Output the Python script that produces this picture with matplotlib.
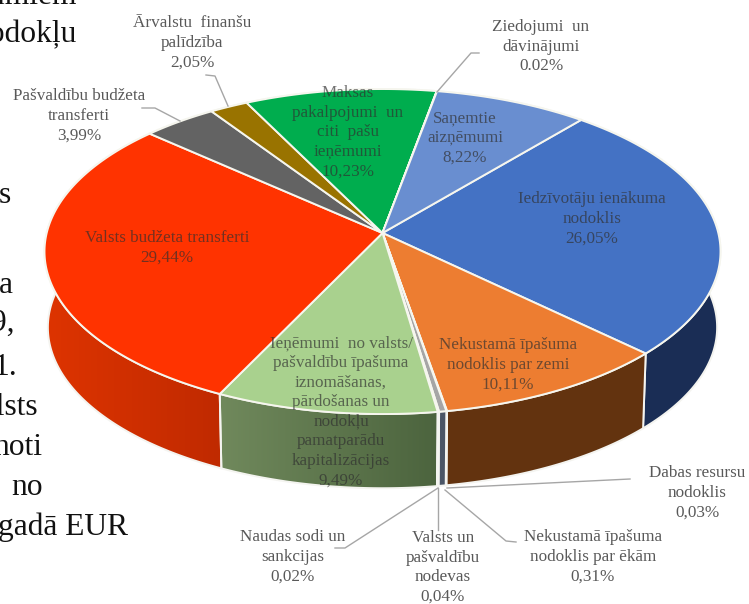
import numpy as np
import matplotlib
matplotlib.use('Agg')
import matplotlib.pyplot as plt
from matplotlib.patches import Polygon

# Dati: ieņēmumu struktūra, %
categories = [
    ['Iedzīvotāju ienākuma', 'nodoklis'],
    ['Nekustamā īpašuma', 'nodoklis par zemi'],
    ['Dabas resursu', 'nodoklis'],
    ['Nekustamā īpašuma', 'nodoklis par ēkām'],
    ['Valsts un', 'pašvaldību', 'nodevas'],
    ['Naudas sodi un', 'sankcijas'],
    ['Ieņēmumi  no valsts/', 'pašvaldību īpašuma', 'iznomāšanas,', 'pārdošanas un', 'nodokļu', 'pamatparādu', 'kapitalizācijas'],
    ['Valsts budžeta transferti'],
    ['Pašvaldību budžeta', 'transferti'],
    ['Ārvalstu  finanšu', 'palīdzība'],
    ['Maksas', 'pakalpojumi  un', 'citi  pašu', 'ieņēmumi'],
    ['Ziedojumi  un', 'dāvinājumi'],
    ['Saņemtie', 'aizņēmumi'],
]
values = [26.05, 10.11, 0.03, 0.31, 0.04, 0.02, 9.49, 29.44, 3.99, 2.05, 10.23, 0.02, 8.22]
pct_labels = ['26,05%', '10,11%', '0,03%', '0,31%', '0,04%', '0,02%', '9,49%',
              '29,44%', '3,99%', '2,05%', '10,23%', '0.02%', '8,22%']
body_lines = ['ieņēmumiem', 'nodokļu', 's', 'a', '9,', '1.', 'valsts', 'noti', 'no', 'gadā EUR']

top_colors = ['#4472C4', '#ED7D31', '#A5A5A5', '#A5A5A5', '#8A8A8A', '#5B9BD5', '#A9D18E',
              '#FF3300', '#636363', '#997300', '#00AD4E', '#7F7F7F', '#698ED0']
side_colors = ['#1A2D55', '#63330F', '#4A5566', '#4A5566', '#4A5566', '#4A5566', None,
               None, '#3A3A3A', '#5C4500', '#006B30', '#4C4C4C', '#3F5580']

# Perspektīva: apļa centrs pikseļos, pusasis un slīpums
cx, cy = 382.5, 233.0
a, b, k = 335.8, 160.4, 0.114
depth = 76.0
bottom_scale = 0.99
start_angle = 50.0

# Teksta izvietojums: (x centrs, pirmās rindas y)
label_pos = [(592, 199), (508, 345), (697, 473), (593, 537), (443, 538), (293, 537), (341, 343),
             (167, 238), (79, 96), (192, 23), (348, 93), (541, 27), (465, 118)]
body_pos = [(77, 3), (77, 42), (11, 203), (13, 293), (15, 331), (17, 375), (38, 415), (42, 455), (43, 495), (128, 535)]
leaders = [
    [(206, 75), (215, 76), (228, 106)],
    [(142, 108), (155, 108), (180, 121)],
    [(479, 53), (471, 53), (437, 92)],
    [(630, 479), (447, 488)],
    [(516, 542), (506, 541), (445, 490)],
    [(438, 488), (438, 530)],
    [(335, 548), (345, 548), (438, 488)],
]
inside = {0, 1, 6, 7, 10, 12}


def rim(theta_deg, scale=1.0, dy=0.0):
    t = np.radians(theta_deg)
    w = 1 + k * np.sin(t)
    x = cx + scale * a * np.cos(t) / w
    y = cy - scale * b * np.sin(t) / w + dy
    return np.column_stack([x, y])


fig = plt.figure(figsize=(7.49, 6.04), dpi=100)
ax = fig.add_axes([0, 0, 1, 1])
ax.axis('off')

plt.rcParams['font.family'] = ['Liberation Serif', 'DejaVu Sans']

edges = start_angle - np.cumsum([0] + values) * 3.6

# Sānu siena
grad_ends = {6: ((112, 137, 92), (76, 100, 62)), 7: ((222, 52, 0), (192, 42, 0))}
for i in range(len(values)):
    th = np.linspace(edges[i], edges[i + 1], max(int(abs(edges[i + 1] - edges[i])) * 2, 2))
    wall = np.vstack([rim(th), rim(th[::-1], bottom_scale, depth)])
    if side_colors[i] is None:
        c0, c1 = grad_ends[i]
        grad = np.linspace(c0, c1, 200).reshape(1, 200, 3).astype(np.uint8)
        poly = Polygon(wall, closed=True, fc='none', ec='none')
        ax.add_patch(poly)
        im = ax.imshow(grad, extent=[wall[:, 0].min(), wall[:, 0].max(), wall[:, 1].max(), wall[:, 1].min()],
                       aspect='auto', zorder=1)
        im.set_clip_path(poly)
        ax.add_patch(Polygon(wall, closed=True, fc='none', ec='#F4F4F0', lw=1.4, zorder=1.5))
    else:
        ax.add_patch(Polygon(wall, closed=True, fc=side_colors[i], ec='#F4F4F0', lw=1.4, zorder=1.5))

ax.set_xlim(0, 749)
ax.set_ylim(604, 0)

# Augšējā virsma
for i in range(len(values)):
    th = np.linspace(edges[i], edges[i + 1], max(int(abs(edges[i + 1] - edges[i])) * 2, 2))
    top = np.vstack([[cx, cy], rim(th)])
    ax.add_patch(Polygon(top, closed=True, fc=top_colors[i], ec='#F6F6EE', lw=1.4, zorder=2))

for pts in leaders:
    xs, ys = zip(*pts)
    ax.plot(xs, ys, color='#A6A6A6', lw=1.0, zorder=3)

for i, lines in enumerate(categories):
    x0, y0 = label_pos[i]
    for j, line in enumerate(lines + [pct_labels[i]]):
        if i in inside:
            ax.text(x0, y0 + j * 19.6, line, ha='center', va='center', fontsize=12.3,
                    color='#303030', alpha=0.68, zorder=4)
        else:
            ax.text(x0, y0 + j * 19.6, line, ha='center', va='center', fontsize=12.3,
                    color='#595959', zorder=4)

for line, (x0, y0) in zip(body_lines, body_pos):
    ax.text(x0, y0, line, ha='right', va='baseline', fontsize=22.7, color='#111111', zorder=5)

fig.savefig('out.png', dpi=100, facecolor='white')
